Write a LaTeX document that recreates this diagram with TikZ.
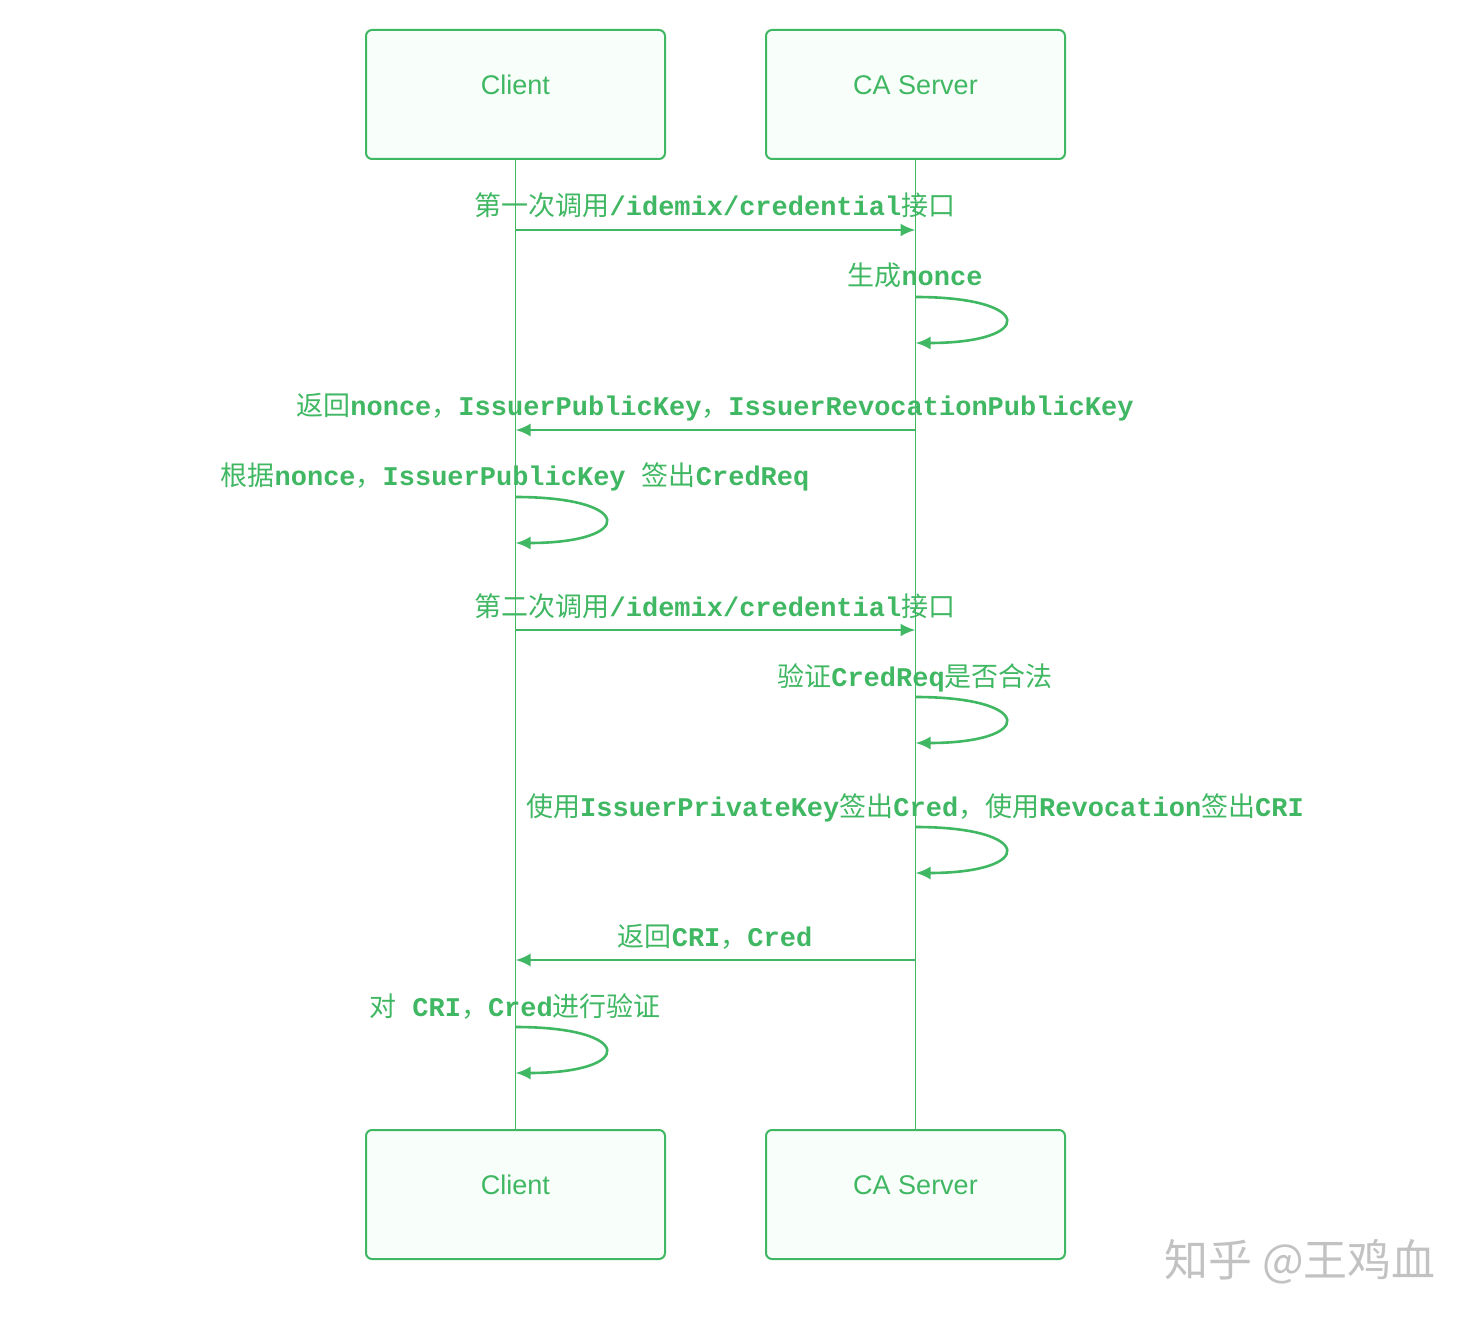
\documentclass[tikz,border=0pt]{standalone}
\usepackage{fontspec}
\setmainfont{Liberation Sans}
\newfontfamily\zh{Noto Sans CJK SC}
\newfontfamily\codefont{Liberation Mono}
\usetikzlibrary{arrows.meta}

\definecolor{seqgreen}{RGB}{64,183,98}
\definecolor{actorfill}{RGB}{248,255,250}

\newcommand{\cn}[1]{{\zh\mdseries #1}}

\tikzset{
    actor/.style={draw=seqgreen, fill=actorfill, line width=1pt, rounded corners=3pt,
        minimum width=149.5pt, minimum height=64.5pt, inner sep=0pt,
        text=seqgreen, text height=10pt, text depth=10pt,
        font=\fontsize{13.5}{15}\selectfont},
    lifeline/.style={draw=seqgreen, line width=0.75pt},
    msg/.style={draw=seqgreen, line width=1.3pt, -{Latex[length=7.5pt,width=6.5pt]}},
    msglabel/.style={text=seqgreen, anchor=base, inner sep=0pt,
        font=\fontsize{13.5}{16}\codefont\bfseries},
    watermark/.style={text=black!24, font=\fontsize{22}{24}\zh}
}

\begin{document}
\begin{tikzpicture}[x=0.5pt,y=-0.5pt]
        \useasboundingbox (0,0) rectangle (1476,1320);

        \node[actor] (clientTop) at (515.5,94.5) {Client};
        \node[actor] (caTop) at (915.5,94.5) {CA Server};
        \node[actor] (clientBot) at (515.5,1194.5) {Client};
        \node[actor] (caBot) at (915.5,1194.5) {CA Server};

        \draw[lifeline] (clientTop) -- (clientBot);
        \draw[lifeline] (caTop) -- (caBot);

        \path (0,230) coordinate (r1) (0,430) coordinate (r2)
              (0,630) coordinate (r3) (0,960) coordinate (r4);
        \path (0,297) coordinate (l1a) (0,343) coordinate (l1b)
              (0,497) coordinate (l2a) (0,543) coordinate (l2b)
              (0,697) coordinate (l3a) (0,743) coordinate (l3b)
              (0,827) coordinate (l4a) (0,873) coordinate (l4b)
              (0,1027) coordinate (l5a) (0,1073) coordinate (l5b);

        \draw[msg] (clientTop |- r1) -- (caTop |- r1);
        \node[msglabel] (t1) at (715,216) {\cn{第一次调用}/idemix/credential\cn{接口}};

        \draw[msg] (caTop |- l1a) .. controls +(120,0) and +(120,0) .. (caTop |- l1b);
        \node[msglabel] (t2) at (915,286) {\cn{生成}nonce};

        \draw[msg] (caTop |- r2) -- (clientTop |- r2);
        \node[msglabel] (t3) at (715,416) {\cn{返回}nonce\cn{，}IssuerPublicKey\cn{，}IssuerRevocationPublicKey};

        \draw[msg] (clientTop |- l2a) .. controls +(120,0) and +(120,0) .. (clientTop |- l2b);
        \node[msglabel] (t4) at (515,486) {\cn{根据}nonce\cn{，}IssuerPublicKey \cn{签出}CredReq};

        \draw[msg] (clientTop |- r3) -- (caTop |- r3);
        \node[msglabel] (t5) at (715,616) {\cn{第二次调用}/idemix/credential\cn{接口}};

        \draw[msg] (caTop |- l3a) .. controls +(120,0) and +(120,0) .. (caTop |- l3b);
        \node[msglabel] (t6) at (915,686) {\cn{验证}CredReq\cn{是否合法}};

        \draw[msg] (caTop |- l4a) .. controls +(120,0) and +(120,0) .. (caTop |- l4b);
        \node[msglabel] (t7) at (915,816) {\cn{使用}IssuerPrivateKey\cn{签出}Cred\cn{，使用}Revocation\cn{签出}CRI};

        \draw[msg] (caTop |- r4) -- (clientTop |- r4);
        \node[msglabel] (t8) at (715,946) {\cn{返回}CRI\cn{，}Cred};

        \draw[msg] (clientTop |- l5a) .. controls +(120,0) and +(120,0) .. (clientTop |- l5b);
        \node[msglabel] (t9) at (515,1016) {\cn{对} CRI\cn{，}Cred\cn{进行验证}};

        \node[watermark] (mark) at (1300,1262) {知乎 @王鸡血};

    \end{tikzpicture}
\end{document}
